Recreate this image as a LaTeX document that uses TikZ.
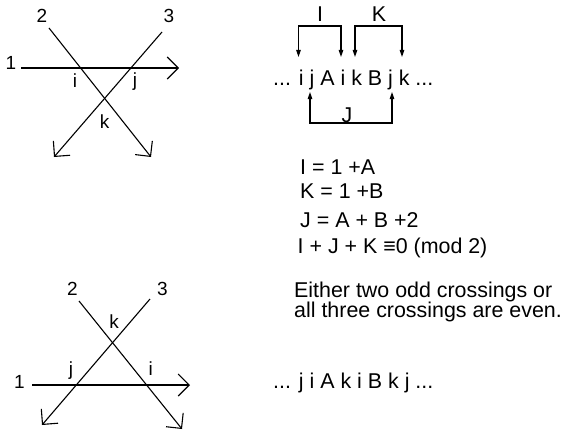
\documentclass[tikz,border=0pt]{standalone}
\usepackage{fontspec}
\setmainfont{Liberation Sans}
\usetikzlibrary{arrows.meta}
\begin{document}
\begin{tikzpicture}[x=1pt,y=-1pt,
  strand/.style={line width=1.1pt,-{Straight Barb[length=11pt,width=22pt,line width=1.1pt]}},
  lbl/.style={font=\fontsize{19}{19}\selectfont,anchor=base,inner sep=0pt},
  txt/.style={font=\fontsize{21.4}{20}\selectfont,inner sep=0pt},
  brk/.style={line width=1.1pt,{Triangle[length=7pt,width=4.5pt]}-{Triangle[length=7pt,width=4.5pt]}}]
\useasboundingbox (0,0) rectangle (561,433);

% ---------- top knot diagram ----------
\coordinate (a1) at (21,68);  \coordinate (b1) at (179,68);
\coordinate (a2) at (49,28);  \coordinate (b2) at (151,157);
\coordinate (a3) at (162,32); \coordinate (b3) at (54,157);
\draw[strand] (a1) -- (b1);
\draw[strand] (a2) -- (b2);
\draw[strand] (a3) -- (b3);
\node[lbl] (t1) at (11,70) {1};
\node[lbl] (t2) at (42,23) {2};
\node[lbl] (t3) at (169,23) {3};
\node[lbl] (ti) at (75,88) {i};
\node[lbl] (tj) at (135,87) {j};
\node[lbl] (tk) at (104.5,128) {k};

% ---------- sequence with brackets ----------
\node[txt,anchor=base west] (seq1) at (273,86) {... i j A i k B j k ...};
\coordinate (I1) at (298.5,57); \coordinate (Ia) at (298.5,26);
\coordinate (Ib) at (341,26);   \coordinate (I2) at (341,57);
\draw[brk] (I1) -- (Ia) -- (Ib) -- (I2);
\coordinate (K1) at (355,57);   \coordinate (Ka) at (355,26);
\coordinate (Kb) at (402,26);   \coordinate (K2) at (402,57);
\draw[brk] (K1) -- (Ka) -- (Kb) -- (K2);
\coordinate (J1) at (310,92);   \coordinate (Ja) at (310,123);
\coordinate (Jb) at (392,123);  \coordinate (J2) at (392,92);
\draw[brk] (J1) -- (Ja) -- (Jb) -- (J2);
\node[txt] (lI) at (320,14) {I};
\node[txt] (lK) at (379,14) {K};
\node[txt,anchor=base] (lJ) at (347,122.5) {J};

% ---------- equations ----------
\node[txt,anchor=base west] (e1) at (300,174) {I = 1 +A};
\node[txt,anchor=base west] (e2) at (300,198) {K = 1 +B};
\node[txt,anchor=base west] (e3) at (300,227) {J = A + B +2};
\node[txt,anchor=base west] (e4) at (297.5,253) {I + J + K ≡0 (mod 2)};
\node[txt,anchor=base west] (c1) at (294,297) {Either two odd crossings or};
\node[txt,anchor=base west] (c2) at (294,317) {all three crossings are even.};

% ---------- bottom knot diagram ----------
\coordinate (d1) at (32,385);  \coordinate (f1) at (190,385);
\coordinate (d2) at (79,301);  \coordinate (f2) at (182,429);
\coordinate (d3) at (150,299); \coordinate (f3) at (42,425);
\draw[strand] (d1) -- (f1);
\draw[strand] (d2) -- (f2);
\draw[strand] (d3) -- (f3);
\node[lbl] (u1) at (19.5,388) {1};
\node[lbl] (u2) at (72.5,295) {2};
\node[lbl] (u3) at (162.5,295) {3};
\node[lbl] (uk) at (114,328) {k};
\node[lbl] (uj) at (71,375) {j};
\node[lbl] (ui) at (150.7,375) {i};

\node[txt,anchor=base west] (seq2) at (273,388) {... j i A k i B k j ...};
\end{tikzpicture}
\end{document}
